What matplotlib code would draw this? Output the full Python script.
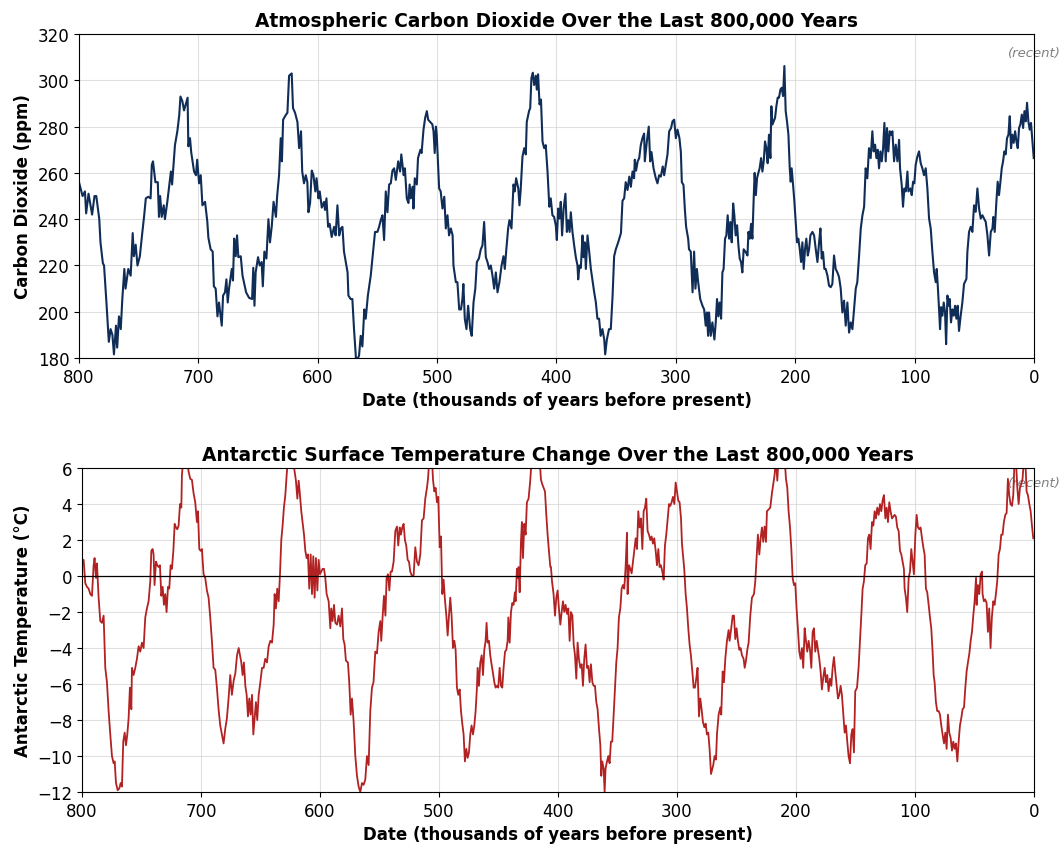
import numpy as np
import matplotlib.pyplot as plt

# --------------------------------------------------
# Values
# --------------------------------------------------
co2_age = [
    800, 797, 795, 794, 792, 789, 787, 785.5, 783, 782, 780, 779, 777, 775, 773.5, 772, 770.7, 769, 768, 766.5,
    765, 763.7, 762, 761, 758.7, 756.7, 755, 754, 752.5, 751, 749, 747, 745.5, 744, 742, 740, 739, 738, 736, 734,
    733, 732, 730.7, 729, 728, 726, 724, 723, 722, 719.6, 717.6, 716, 715, 713.4, 712, 710.6, 709, 708.4, 707, 706,
    703.6, 702, 701, 699.4, 698, 696.6, 694.4, 692.5, 691.6, 689.7, 688, 687, 685.5, 684, 682.7, 680.4, 679.3, 677.7,
    676.5, 675.4, 674.3, 672, 671, 670, 668.7, 667.6, 666.5, 664.5, 663, 660, 657.5, 655, 654, 653, 652, 650, 648.6,
    647, 646, 644.7, 643, 641.3, 640, 638.5, 637, 635, 634, 632.4, 631, 630, 629, 626.8, 625.4, 624, 622.6, 621.8,
    620.7, 619, 617, 615.6, 614, 613, 611.5, 610, 608.7, 607.8, 606.4, 605, 603.6, 602, 601, 599.4, 598.3, 596.6,
    594.7, 593.9, 592.7, 591.3, 590, 588.3, 586.3, 585, 583.5, 582, 580.7, 579.3, 578, 576.5, 575, 574.3, 572.4, 571,
    569.6, 568, 566.8, 565.4, 564, 562.6, 561, 559.8, 558, 555.6, 553.6, 552, 550, 548.6, 547.2, 545.8, 544.4, 543,
    541.6, 540.2, 538.8, 537.4,
    536, 534.6, 532.6, 531, 530, 528, 527, 525.4, 524, 523, 522, 520.6, 519.8, 518.7, 517, 516, 514, 513, 511.4, 510,
    508.6, 507.5, 505.8, 504, 503, 502, 501, 500.3, 499, 498.3, 497, 495.5, 494, 492.7, 491.3, 490, 488.5, 487, 486.3,
    484.3, 483, 481.5, 480, 478.8, 478, 476.8, 475.4, 474, 472.3, 471, 469.5, 468, 466.7, 465, 463.4, 462, 460.6,
    459.2, 457.8, 456.4, 455, 453.6, 452.2, 450.8, 449.4, 447.8, 446, 444.4, 443.3, 442, 440.5, 439.4, 437.7, 436,
    435, 433.8, 432, 431, 430, 428.5, 427, 425.7, 424.9, 423, 422, 421, 419.8, 418.7, 417.3, 416.5, 415.4, 414.2, 413,
    411.7, 410.3, 409, 407.5, 406, 404.8, 403.4, 402, 400.6, 399.7, 398.6, 397.5, 396.4, 395.3, 394, 392.5, 391.3,
    390.2, 389, 388, 386.6, 385.2, 383.8, 382.4, 381.8, 380.7, 379.6, 378.2, 377.4, 376.3, 375.4, 374, 372.6, 371.2,
    369.6, 368.4, 367, 365.7, 364.3, 363, 361.5, 360, 359.2, 357.8, 356, 354.5, 353, 351.7, 350.3, 348.3, 346, 344.7,
    343.3, 342, 340.5, 339, 337.7, 336.3, 335, 334.4, 333.3, 332, 330.7, 329.4, 328, 326.6, 326, 324.3, 322.7, 321.5,
    320.4, 318.7, 316.8, 315.4, 314, 312.6, 311, 309.8, 308.4, 307, 305.6, 304, 302.8, 301.4, 300, 298.6, 297, 295.8,
    295, 293.6, 292.5, 291.4, 289.7, 289, 287.5, 286, 284.7, 283.6, 282.4, 281.3, 279.6, 277.7, 276.3, 275, 274, 273,
    272.2, 270.8, 269.4, 267.7, 266.6, 265.5, 264.4, 263.3, 262.1, 261, 260, 258.8, 257.7, 256.6, 255.4, 254.3, 253.2,
    252, 251, 249.9, 248.7, 247.6, 246.5, 245.4, 244.3, 243.2, 241.5, 240, 239.2, 238.1, 237, 235.9, 234.8, 234, 233,
    232, 230.9, 229.8, 228.6, 227.5, 226.4, 225.3, 224.2, 223.1, 222, 220.8, 220, 219.1, 218, 216.9, 215.8, 214.7,
    213.6, 212.4, 211.3, 210.2, 209.1, 208, 206.9, 205.7, 204.6, 203.8, 203, 201.8, 200.7, 199.6, 198.5, 197.4, 196.2,
    195.1, 194, 192.9, 191.8, 190.7, 189.5, 188.4, 187.3, 185.6, 184.2, 182.8, 181.4, 180, 178.9, 177.8, 176.7, 175.6,
    174.5, 173, 171.7, 170.3, 168.9, 167.5, 166.1, 164.7, 163.3, 161.9, 160.5, 159.1, 157.7, 156.3, 154.9, 153.5,
    152.1, 150.7, 149.3, 148, 146.5, 145.1, 143.7, 142.3, 141, 139.6, 138.2, 136.8, 135.4, 134.3, 133.1, 132, 130.9,
    129.8, 128.7, 127.5, 126.4, 125.3, 124.2, 123.1, 122, 120.8, 119.7, 118.6, 117.2, 115.8, 114.4, 113, 112.2, 110.8,
    109.7, 108.6, 107.4, 106, 105.2, 103.5, 102.4, 101.3, 100.2, 99.1, 97.7, 96.3, 94.9, 93.5, 92.1, 90.7, 89.3, 87.9,
    86.5, 85.1, 83.7, 82.3, 81.5, 80.6, 79.5, 78.7, 77.8, 76.7, 75.6, 74.5, 73.6, 72.5, 71.4, 70.6, 69.5, 68.3, 67.2,
    66.1, 65, 63.9, 62.8, 61.4, 60, 58.6, 56.6, 55.8, 54.4, 53, 51.6, 50.2, 48.8, 47.4, 46, 44.6, 43.2, 41.8, 40.4, 39,
    37.6, 36.2, 34.8, 34, 32.9, 31.5, 30.4, 29.3, 28.1, 27, 25.9, 24.8, 23.7, 22.6, 21.4, 20.3, 19.2, 18.1, 17, 15.8,
    14.7, 13.6, 12.5, 11.4, 10.2, 9.1, 8, 6.9, 5.8, 4.7, 3.6, 2.5, 1.3, 0.2,
]
co2_ppm = [
    256, 250, 252, 242.5, 251, 242, 250, 250, 240, 230, 221, 220, 204, 187, 192.5, 190, 181.6, 194, 184.5, 198,
    192.5, 205.5, 218.5, 210, 218.5, 215.6, 234, 224, 229, 220, 224, 234, 241, 249, 249.7, 249, 263.5, 265, 256, 256,
    241, 250, 241, 246, 240, 247.5, 256, 260.6, 255, 272, 278, 285, 293, 291, 287, 289.6, 292.5, 271.5, 275, 269,
    260.6, 259, 265.7, 255.5, 259, 246, 247.5, 239, 232, 227, 226, 211, 210, 198, 204, 194, 207, 208.4,
    214, 204, 210, 218.5, 213.5, 231.6, 224, 233, 223.6, 224, 215.6, 208.4, 206, 205.5, 219, 202.6, 217, 223.6, 220,
    221.5, 211, 226, 223, 240, 230, 237, 247.5, 241, 250, 259, 275, 265, 283, 285, 286, 302, 302.6, 303,
    288, 286, 282, 270.7, 278, 260.6, 255.5, 259, 256, 243, 247, 261, 259, 252, 257.7, 249, 252, 245,
    247.5, 244, 249, 236.7, 238, 232.3, 236.7, 233, 246, 233, 236, 236.7, 226, 221.5, 217, 207, 205.5, 205.5,
    192.5, 180, 179.5, 181, 189.6, 185, 201, 197, 207, 215.6, 226, 234.5, 234.5, 236.7, 239.6, 241.7, 231, 252,
    243, 255, 255.5, 261,
    262, 257, 265, 260.6, 268, 259, 262, 249, 247, 255, 249, 254, 244.6, 257.7, 255, 266.4, 270, 268.6, 278.7, 283.8,
    286.7, 283, 282, 281, 278, 268.6, 280, 276.5, 262, 253.3, 252, 244.6, 249.7, 236, 241.7, 233, 236, 233, 220,
    212.8, 212.8, 201, 201, 205.5, 212, 197, 192.5, 202.6, 192.5, 189.6, 204, 210, 221.5, 223, 227, 228.7, 238.8,
    223.6, 221.5, 218.5, 220, 215.6, 210, 217, 208.4, 212.8, 220, 224, 218.5, 227, 236, 239.6, 236, 255,
    252, 257.7, 253.3, 246, 252.6, 267, 270.7, 268, 282, 286.7, 288, 301, 303.3, 298, 302, 296, 302.6, 289.6, 291.7,
    273.6, 270.7, 272, 260.6, 245.4, 249, 241.7, 241, 237.4, 231, 244.6, 240.3, 247.5, 233, 244.6, 251, 234.5,
    239.6, 234.5, 243, 234.5, 228.7, 223.6, 220, 214, 220, 219, 233, 223.6, 230, 218.5, 233, 226, 218.5,
    212.8, 208.4, 204, 197, 197, 189.6, 192.5, 188, 181.6, 188, 192.5, 192.5, 207, 224, 227, 230, 234, 248,
    249, 256, 252.6, 258.4, 254, 260.6, 257.7, 265.7, 261, 265, 266.4, 272, 275, 277, 265, 273.6, 280, 265,
    269, 262, 257.7, 255.5, 259, 258.4, 262.8, 259, 263.5, 268, 278, 279.4, 282.3, 283, 275, 278.7, 275, 269,
    256, 254.8, 244.6, 236.7, 231.6, 227, 226, 208.4, 226, 210, 218.5, 212.8, 205.5, 202.6, 201, 194, 199.7, 189.6,
    199.7, 189.6, 195.4, 188, 195.4, 205.5, 198, 204, 197, 217, 218.5, 231.6, 233, 241.7, 231.6, 238.8, 230,
    246.8, 241.7, 233, 237.4, 228.7, 223, 221.5, 217, 227, 225.8, 224.3, 234.5, 231.6, 238, 231.6, 249, 260, 250.4,
    257.7, 260, 262, 266.4, 260.6, 265, 273.6, 270.7, 264.2, 276.5, 266.4, 288.8, 280.9, 282.3, 283.8, 288.8, 292.5,
    292.5, 296, 296.8, 293.2, 306.2, 286.7, 282.3, 276.5, 262, 256.2, 262, 254.8, 247.5, 238.8, 230, 231.6, 227,
    221.5, 230, 218.5, 227, 231.6, 224.3, 227, 233, 234.5, 233, 227, 221.5, 230, 236, 223, 225.8, 218.5,
    218.5, 215.6, 211.3, 210.6, 212, 224.3, 218.5, 217, 215, 210, 199.7, 204.8, 194, 204, 191, 195.4,
    192.5, 201, 210, 212.8, 224.3, 236, 241.7, 245.4, 262, 257.7, 270.7, 266.4, 278, 269.3, 272.2, 266.4, 270,
    262, 269.3, 265, 270.7, 281.6, 265, 279.4, 269.3, 278, 276.5, 278, 265, 272.2, 265, 274.3, 262, 254.8,
    245.4, 253.3, 252, 260.6, 252, 253.3, 250.4, 256.2, 255.5, 263.5, 267, 269.3, 264.2, 262, 259, 262, 253.3, 240.3,
    236, 225.8, 217, 212.8, 218.5, 211.3, 201, 192.5, 202, 198.3, 204, 199.7, 186, 207, 202.6, 205.5, 195.4, 201, 198.3,
    202.6, 197, 202.6, 191.7, 198.3, 204, 212, 214.2, 225.8, 234.5, 236.7, 234.5, 246, 243.2, 253.3, 244.6, 240.3, 241.7, 240.3, 238.8, 233,
    224.3, 234.5, 236, 241, 234.5, 247.5, 256.2, 250.4, 256.2, 262, 265, 269.3, 268, 275, 276.5, 284.5, 270.7, 276.5, 273, 278,
    273.6, 270.7, 279.4, 281, 285.2, 279.4, 286.7, 282.3, 290.3, 282.3, 278.7, 281.6, 273.6, 266.4,
]

temp_age = [
    800, 798.6, 797.2, 795.8, 794.4, 793, 791.6, 790.2, 789.4, 788.2, 787.4, 786, 784.6, 783.2, 781.8, 780.4, 779,
    777.6, 776.2, 774.8, 773.4, 772.5, 771.4, 770, 768.6, 767.5, 766.4, 765.3, 764.1, 763, 761.9, 760.8, 759.7, 758.5,
    758, 756.6, 755.2, 753.8, 752.4, 751, 749.6, 748.2, 746.8, 745.4, 744, 742.6, 741.7, 740.6, 739.8, 739, 737.8,
    736.7, 735.6, 734.5, 733.3, 732.2, 731.1, 730, 728.9, 727.7, 726.6, 725.5, 724.4, 723.2, 722.1, 721, 719.9, 718.8,
    717.6, 716.5, 716, 714.8, 713.2, 711.8, 710.4, 709, 707.6, 706.2, 704.8, 703.4, 702.5, 701.4, 700.3, 699.2, 697.8,
    696.4, 695, 693.6, 692.2, 690.8, 689.4, 688, 686.6, 685.2, 683.8, 682.4, 681, 679.6, 678.2, 676.8, 675.4, 674,
    672.5, 671.1, 669.7, 668.3, 667.2, 666.1, 665, 663.9, 662.7, 661.6, 660.5, 659.4, 658.3, 657.1, 656, 654.9, 653.8,
    652.7, 651.5, 650.1, 648.7, 647.3, 646, 644.5, 643.1, 641.7, 640.3, 638.9, 638.1, 637, 635.9, 634.7, 633.6, 632.5,
    631.4, 630.3, 629.1, 628, 626.9, 625, 623, 621.3, 620.2, 619, 617.9, 616.8, 615.7, 614.6, 613.4, 612.3, 611.2,
    610.1, 609, 607.8, 606.7, 605.6, 604.5, 603.4, 602.2, 601.1, 600, 598.9, 597.8, 596.6, 595.5, 594.4, 592.7, 591.3,
    590.5, 589.4, 588.2, 587.1, 585.7, 584.3, 582.9, 581.5, 580.4, 579.3, 578.2, 576.5, 575.4, 574.2, 573.1, 571.7,
    570.3, 568.9, 567.5, 566.1, 564.7, 563.3, 561.9, 560.5, 559.1, 557.7, 556.3, 555, 553.5, 552.1, 550.7, 549.3,
    548.5, 547.3, 546.2, 545, 544, 542.9, 541.7, 540.6, 539.5, 538.1, 536.7,
    535.3, 534.2, 533, 532, 530.8, 529.7, 528.6, 527.5, 526.3, 525.2, 524.1, 522.7, 521.3, 519.9, 518.5, 517.1, 515.7,
    514.3, 512.9, 511.5, 510.1, 509.2, 508.1, 506.7, 505.9, 505, 503.9, 502.8, 501.7, 500.6, 499.4, 498.3, 497.2,
    496.1, 495, 493.8, 492.7, 491.6, 490.5, 489.4, 488.2, 487.1, 486, 484.9, 483.8, 482.6, 481.5, 480.4, 479.3, 478.2,
    477, 475.9, 474.8, 473.7, 472.6, 471.4, 470.3, 469.2, 468.1, 467.5, 466.4, 465.3, 464.1, 463, 461.9, 460.8, 460,
    459.1, 458, 456.9, 455.8, 454.6, 453.5, 452.4, 451.3, 450.2, 449, 447.9, 446.8, 445.7, 444.5, 443.4, 442.3, 441.7,
    440.6, 439.5, 438.4, 437.3, 436.2, 435.6, 434.5, 433.9, 433.1, 432.2, 431.1, 430.3, 429.4, 428.3, 427.2, 426.1,
    424.7, 423.3, 422.1, 420.5, 417.7, 415.4, 414.3, 413.2, 412, 410.9, 409.8, 408.7, 407.6, 406.4, 405.9, 405, 403.7,
    402.5, 401.4, 400.3, 399.2, 398, 396.9, 395.8, 394.7, 393.6, 392.4, 391.3, 390.2, 389.1, 387.9, 386.8, 385.7,
    384.6, 383.5, 382.4, 381.2, 380.1, 379, 377.9, 376.8, 375.6, 374.5, 373.4, 372.3, 371.1, 370, 368.9, 367.8, 366.7,
    365.5, 364.4, 363.6, 362.8, 361.6, 360.8, 360, 358.8, 357.7, 356.6, 355.5, 354.4, 353.2, 352.1, 351, 349.9, 348.8,
    347.6, 346.5, 345.4, 344.3, 343.7, 343.1, 342, 341.5, 340.3, 339.2, 338.1, 337, 335.9, 334.7, 333.6, 332.5, 331.4,
    330.3, 329.1, 328, 326.9, 325.8, 324.7, 323.5, 322.4, 321.3, 320.2, 319.1, 317.9, 316.8, 315.7, 314.6, 313.5,
    312.3, 311.2, 310.1, 309, 307.8, 306.7, 305.6, 304.5, 303.4, 302.2, 301.1, 300, 298.9, 297.8, 296.6, 295.8, 295,
    293.9, 292.7, 291.6, 290.5, 289.4, 288.3, 287.1, 286, 284.9, 283.8, 282.7, 281.5, 280.4, 279.3, 278.2, 277, 275.9,
    274.8, 273.7, 272.6, 271.4,
    269.5, 268.4, 267.2, 266.4, 265, 263.6, 262.8, 261.6, 260.5, 259.4, 258, 256.6, 255.8, 254.4, 253.2, 252.1, 251,
    249.9, 248.8, 247.6, 246.5, 245.4, 244, 243.1, 242, 240.9, 239.8, 238.4, 237, 235.3, 234.2, 233.1, 232, 230.8,
    229.7, 228.6, 227.5, 226.4, 225.2, 224.4, 223, 221.6, 220.2, 219.1, 218, 216.8, 215.7, 214.6, 211.8, 209.5, 208.4,
    207.3, 206.2, 205, 203.9, 202.8, 201.7, 200.6, 199.5, 198.4, 197.2, 196.1, 195, 193.9, 192.7, 191.6, 190.5, 189.4,
    188.2, 187.1, 186, 184.9, 183.8, 182.6, 181.5, 180.4, 179.3, 178.2, 177, 175.9, 174.8, 173.7, 172.6, 171.4, 170.3,
    169.2, 168.1, 167, 165.8, 164.7, 163.6, 162.5, 161.4, 160.2, 159.1, 158, 156.9, 155.8, 154.6, 153.5, 152.4, 151.3,
    150.2, 148.7, 147.4, 146.2, 145.1, 144, 142.9, 141.8, 140.6, 139.5, 138.4, 137.3, 136.1, 135, 133.9, 132.8, 131.7,
    130.5, 129.4, 128.3, 127.2, 126.1, 124.9, 123.8, 122.7, 121.6, 120.5, 119.3, 118.2, 117.1, 116, 114.9, 113.7,
    112.6, 111.5, 110.4, 109.3, 108.7, 107.6, 106.5, 105.3, 104.2, 103.1, 102, 100.9, 99.7, 98.6, 97.5, 96.4, 95.3,
    94.1, 93, 91.9, 90.8, 89.7, 88.5, 87.4, 86.3, 85.2, 84.3, 83.5, 82.4, 81.3, 80.1, 79, 77.9, 76.8, 75.6, 74.5,
    73.4, 72.3, 71.2, 70, 68.9, 67.8, 66.7, 65.6, 64.4, 63.3, 62.2, 61.1, 60, 58.8, 57.7, 56.6, 55.5, 54.3, 53.2,
    52.1, 51, 49.9, 48.7, 48.2, 47.1, 46, 44.8, 43.7, 43.2, 42.1, 41, 39.8, 38.7, 37.6, 36.5, 35.4, 34.2, 33.1, 32,
    30.9, 29.7, 28.6, 27.5, 26.4, 25.3, 24.1, 23, 21.9, 20.8, 19.7, 18.5, 17.4, 16.3, 15.2, 14, 12.9, 11.8, 10.7, 9.6,
    8.4, 7.3, 6.2, 5.1, 3.9, 2.8, 1.7, 0.6,
]
temp_c = [
    0.62, 0.9, -0.4, -0.6, -0.7, -1, -1.1, 0.6, 1, -0.1, 0.7, -1.2, -2.5, -2.6, -2.2, -5.1, -5.9, -7.5, -8.8, -10,
    -10.4, -10.3, -11.5, -11.9, -11.8, -11.5, -11.7, -9.2, -8.7, -9.4, -8.8, -7.9, -6.2, -7.4, -5.1, -5.5, -5.1, -4.6,
    -3.9, -4.2, -3.7, -4, -2.3, -1.8, -1.4, -0.3, 1.4, 1.5, 1.2, -0.5, 0.8, 0.6, 0.5, 0.6, -1.1, -0.6, -1.6, -1, -2,
    -0.6, -0.7, 0.6, 0.4, 1.4, 2.9, 2.7, 2.6, 2.8, 4, 3.8, 5.6, 6.6, 6.4, 6.6, 5.8, 5.4, 5.35, 4.6, 4.1, 3, 3.6, 1.5,
    1.4, 1.5, 0.1, -0.1, -0.8, -1.2, -2.3, -3.6, -5.1, -5.2, -6.2, -7.4, -8.3, -8.8, -9.3, -8.5, -7.9, -6.8, -5.5,
    -6.6, -5.8, -5.4, -4.4, -4, -4.4, -4.8, -5.5, -4.8, -6.1, -6.6, -7.8, -6.8, -7.7, -6.6, -8.8, -7.9, -7, -8, -6.6,
    -5.9, -5.1, -5.1, -4.6, -4.8, -3.9, -3.6, -3.7, -2.7, -1, -1.8, -0.7, -1.4, 0.1, 2, 2.8, 3.8, 4.5, 5.6, 6.5, 6.8,
    6.6, 5.8, 5.3, 4.3, 5.3, 4.5, 3.6, 3, 2.3, 1.4, 1, 1.2, -0.7, 1.2, -1, 1.1, -1.2, 1, -0.8, 0.9, 0.1, 0.25, 0.4,
    0.4, -0.1, -1, -1.4, -2.9, -1.8, -2.5, -1.6, -2.6, -2.7, -2.2, -2.8, -1.8, -3.5, -3.8, -4.7, -4.8, -5.9, -7.7,
    -6.8, -8.1, -10, -11.1, -11.7, -12, -11.5, -11.6, -11.3, -10, -10.5, -7.5, -6.2, -5.9, -4.2, -4.3, -3.1, -2.5,
    -3.6, -2.2, -1.1, -2.2, -0.1, 0.1, -0.8, 0.25, 0.25, 0.8, 2.5,
    2.75, 1.7, 2.7, 2.3, 2.7, 2.9, 2, 1.7, 0.9, 0.8, 0.25, 0, 0.05, 1.6, 0.8, 0.6, 1.2, 3.1, 3.2, 4.3, 4.9, 5.4, 6.5,
    6.8, 6.5, 5.35, 4.7, 4.9, 4.1, 4.4, 1.6, 2.2, -1, -0.2, -1.3, -2.2, -3.3, -2.2, -1.2, -2.2, -4, -3.6, -4.1, -6.2,
    -6.6, -6.3, -7.5, -8.2, -8.8, -10.3, -9.6, -10.1, -9.8, -8.8, -8.3, -8.8, -8.3, -7.5, -6.2, -5.1, -6.1, -4.8,
    -4.4, -5.5, -4.1, -3.6, -2.6, -3.7, -3.6, -4.4, -4.9, -5.4, -5.9, -6.2, -6.1, -6.2, -5.1, -6.1, -6.2, -5.1, -4.2,
    -4.1, -3.6, -2.3, -3.7, -2, -1.5, -1.6, -0.9, -1.4, 0.4, -0.1, 0.5, -0.9, 1.9, 3, 1, 2.9, 2.3, 4.1, 4.3, 5.3,
    6.5, 6.9, 6.9, 6.5, 5.35, 5.1, 4.9, 4.7, 3.4, 2.3, 1.4, 0.5, 0.5, -0.3, -1, -2.2, -1.2, -0.8, -1.8, -2.7, -2,
    -1.4, -2, -1.6, -2.1, -1.8, -3.6, -2, -2.2, -3.8, -4.4, -5.7, -3.7, -4.6, -5.1, -4.9, -6.1, -4.6, -3.8, -5.1, -5,
    -5.9, -4.9, -5.9, -6.1, -6.1, -7, -7.4, -8.5, -9.4, -11.1, -10.3, -10.7, -12, -10.7, -10.3, -10, -10.4, -9.2,
    -9.2, -7.7, -6.2, -4.8, -4, -2.3, -1.8, -0.7, -0.5, -0.7, -0.1, 0.6, 2.4, -1, 0.6, 0.4, 0.15, 0.8, 1.4, 2.1, 1.5,
    3.6, 2.7, 3.2, 1.5, 3.6, 3.8, 4.3, 2.5, 2.3, 2, 2.2, 1.8, 2.1, 1.4, 0.6, 1.5, 0.5, 0.6, 0.25, -0.2, 1.7, 2.3,
    3.2, 4, 3.9, 4.1, 4.4, 4, 5.2, 4.7, 4.2, 4.1, 3.2, 1.8, 1.2, 0.4, -1, -1.8, -2.9, -3.8, -4.4, -5.3, -6.2, -6.2,
    -5.7, -5.1, -7.8, -6.8, -7.4, -8.1, -8.4, -8.2, -8.8, -8.7, -9.6, -11,
    -10.5, -10, -10.2, -8.8, -7.7, -7.3, -7.7, -5.3, -5.9, -4.6, -3.6, -3, -3.6, -2.9, -2.2, -2.2, -3.5, -2.9, -3.6,
    -4.1, -4, -4.4, -4.6, -5.1, -4.7, -4.1, -3.7, -2.2, -1.2, -1, -0.3, 1, 2.3, 1.2, 2.1, 2.7, 1.9, 2.75, 1.9, 3.6,
    3.7, 3.8, 4.6, 5.1, 5.6, 6.5, 5.3, 6.6, 6.9, 6.5, 5.4, 4.9, 3.6, 2.7, 1.5, -0.1, -0.5, -0.4, -1.8, -2.9, -4.2,
    -4.6, -4, -5.1, -2.9, -3.6, -4.2, -3.6, -4.1, -5.1, -3.1, -2.9, -4.2, -3.6, -4.1, -4.6, -5.3, -6.3, -5.6, -5.1,
    -5.9, -5.5, -6.4, -5.7, -6.1, -5.1, -4.5, -5.3, -6.1, -6.8, -6.6, -6.1, -6.6, -7.7, -8.7, -8.3, -9.2, -10, -10.4,
    -8.8, -8.5, -9.8, -6.4, -6.2, -5.1, -3.6, -2.2, -0.7, -0.3, 0.6, 0.7, 2.1, 2.3, 1.5, 3, 2.8, 3.6, 3.2, 3.8, 3.4,
    4, 3.6, 4.2, 4.5, 3.2, 3.8, 3, 4.1, 3.6, 3.2, 3.3, 3.4, 3.3, 2.7, 2.5, 1.4, 1.2, 0.8, 0.4, -0.7, -1.2, -2, -0.1,
    0.25, 1.5, 0.8, 0.1, 2.3, 3.4, 2.7, 2.6, 2.7, 2.1, 1.6, 1.2, -0.7, -0.9, -1.6, -2.3, -2.9, -4.2, -5.5, -5.9, -7,
    -7.5, -7.5, -7.7, -8.3, -8.8, -9.3, -8.7, -9.6, -7.7, -8.7, -9, -9.7, -9.2, -9.6, -9.3, -10.3, -9.2, -8.3, -7.9,
    -7.4, -7.3, -6.2, -5.3, -4.8, -4.3, -3.6, -3.1, -2.2, -1.4, -0.1, -1.6, -0.5, -1, 0.1, 0.25, -1, -1.4, -1.3,
    -1.5, -3.1, -1.8, -4, -2.3, -1.4, -1.6, -1, -0.3, 1.2, 1.5, 2.3, 2.3, 3, 3.4, 3.5, 5.4, 4.5, 4, 3.9, 4.5, 6.5,
    6.5, 4.9, 4, 4.9, 5.1, 5.4, 6.5, 6.5, 4.7, 4.5, 4, 3.6, 2.8, 2.1,
]

co2_ticks = [180, 200, 220, 240, 260, 280, 300, 320]
temp_ticks = [-12, -10, -8, -6, -4, -2, 0, 2, 4, 6]
age_ticks = [800, 700, 600, 500, 400, 300, 200, 100, 0]

# --------------------------------------------------
# Figure
# --------------------------------------------------
fig = plt.figure(figsize=(10.63, 8.45), dpi=100)
ax1 = fig.add_axes([0.0743, 0.5751, 0.8984, 0.3834])
ax2 = fig.add_axes([0.0771, 0.0615, 0.8956, 0.3834])

xlabel = "Date (thousands of years before present)"

# top: CO2
ax1.plot(co2_age, co2_ppm, color="#0f2d57", linewidth=1.5)
ax1.set_xlim(800, 0)
ax1.set_ylim(180, 320)
ax1.set_xticks(age_ticks)
ax1.set_yticks(co2_ticks)
ax1.grid(True, color="#cccccc", alpha=0.6, linewidth=0.8)
ax1.set_title("Atmospheric Carbon Dioxide Over the Last 800,000 Years",
              fontsize=13.4, fontweight="bold")
ax1.set_xlabel(xlabel, fontsize=12, fontweight="bold")
ax1.set_ylabel("Carbon Dioxide (ppm)", fontsize=12, fontweight="bold")
ax1.text(0, 312, "(recent)", ha="center", va="center", fontsize=9.5,
         style="italic", color="gray", zorder=1)

# bottom: temperature
ax2.plot(temp_age, temp_c, color="#b22222", linewidth=1.3)
ax2.axhline(0, color="black", linewidth=0.9)
ax2.set_xlim(800, 0)
ax2.set_ylim(-12, 6)
ax2.set_xticks(age_ticks)
ax2.set_yticks(temp_ticks)
ax2.grid(True, color="#cccccc", alpha=0.6, linewidth=0.8)
ax2.set_title("Antarctic Surface Temperature Change Over the Last 800,000 Years",
              fontsize=13.4, fontweight="bold")
ax2.set_xlabel(xlabel, fontsize=12, fontweight="bold")
ax2.set_ylabel("Antarctic Temperature (°C)", fontsize=12, fontweight="bold")
ax2.text(0, 5.2, "(recent)", ha="center", va="center", fontsize=9.5,
         style="italic", color="gray", zorder=1)

for ax in (ax1, ax2):
    ax.tick_params(labelsize=12)
    for s in ax.spines.values():
        s.set_color("black")

fig.savefig("out.png", dpi=100)
